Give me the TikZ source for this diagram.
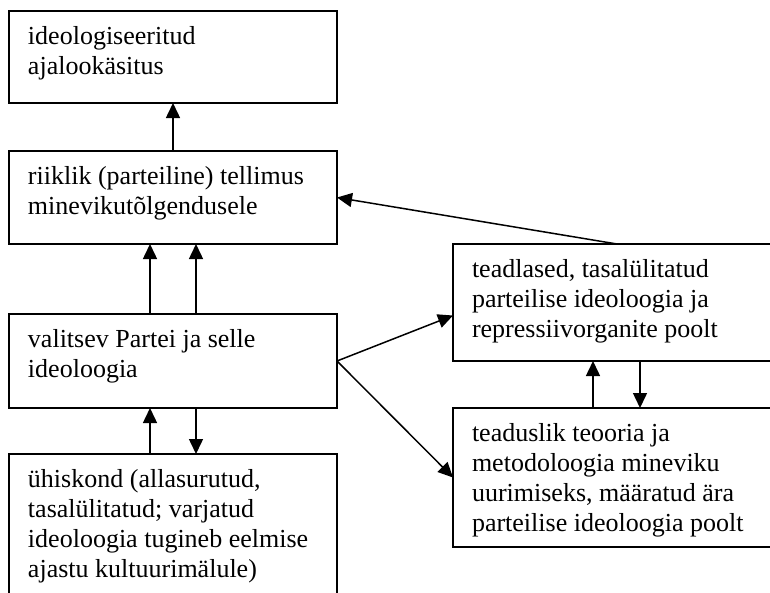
\documentclass[tikz,border=0pt]{standalone}
\usepackage{fontspec}
\setmainfont{Liberation Serif}
\usepackage{tikz}
\usetikzlibrary{positioning,arrows.meta}
\newcommand{\textbox}[4]{
\node (#1) [#2]{
	\parbox[c][#3][t]{328pt}{\raggedright\leftskip=19pt\rule{0pt}{33pt}#4}};}
\tikzstyle{box}=[rectangle, draw=black, line width=1.5pt, inner sep=0pt, outer sep=0pt,
        minimum width=328pt, font=\fontsize{26pt}{30pt}\selectfont]
\tikzstyle{line}=[line width=1.5pt,-{Triangle[length=15pt,width=14pt]}]

\begin{document}
\begin{tikzpicture}[x=1pt,y=1pt]
\useasboundingbox (0,0) rectangle (770,-592);
\clip (0,0) rectangle (770,-592);

\textbox{Ajalookasitus}{box, anchor=north west, at={(9,-11)}}{92pt}{ideologiseeritud\\ajalookäsitus}
\textbox{Tellimus}{box, below=48pt of Ajalookasitus}{93pt}{riiklik (parteiline) tellimus\\minevikutõlgendusele}
\textbox{Partei}{box, below=70pt of Tellimus}{94pt}{valitsev Partei ja selle\\ideoloogia}
\textbox{Uhiskond}{box, below=46pt of Partei}{150pt}{ühiskond (allasurutud,\\tasalülitatud; varjatud\\ideoloogia tugineb eelmise\\ajastu kultuurimälule)}
\textbox{Teadlased}{box, below right=0pt and 116pt of Tellimus.south east}{117pt}{teadlased, tasalülitatud\\parteilise ideoloogia ja\\repressiivorganite poolt}
\textbox{Teooria}{box, below=47pt of Teadlased}{139pt}{teaduslik teooria ja\\metodoloogia mineviku\\uurimiseks, määratud ära\\parteilise ideoloogia poolt}

% draw lines
\draw[line] (Tellimus.north) -- (Ajalookasitus.south);
\draw[line] ([xshift=-23pt]Partei.north) -- ([xshift=-23pt]Tellimus.south);
\draw[line] ([xshift=23pt]Partei.north) -- ([xshift=23pt]Tellimus.south);
\draw[line] ([xshift=-23pt]Uhiskond.north) -- ([xshift=-23pt]Partei.south);
\draw[line] ([xshift=23pt]Partei.south) -- ([xshift=23pt]Uhiskond.north);
\draw[line] (Partei.east) -- ([yshift=-13pt]Teadlased.west);
\draw[line] (Partei.east) -- (Teooria.west);
\draw[line] (Teadlased.north) -- (Tellimus.east);
\draw[line] ([xshift=-24pt]Teooria.north) -- ([xshift=-24pt]Teadlased.south);
\draw[line] ([xshift=23pt]Teadlased.south) -- ([xshift=23pt]Teooria.north);

\end{tikzpicture}
\end{document}
